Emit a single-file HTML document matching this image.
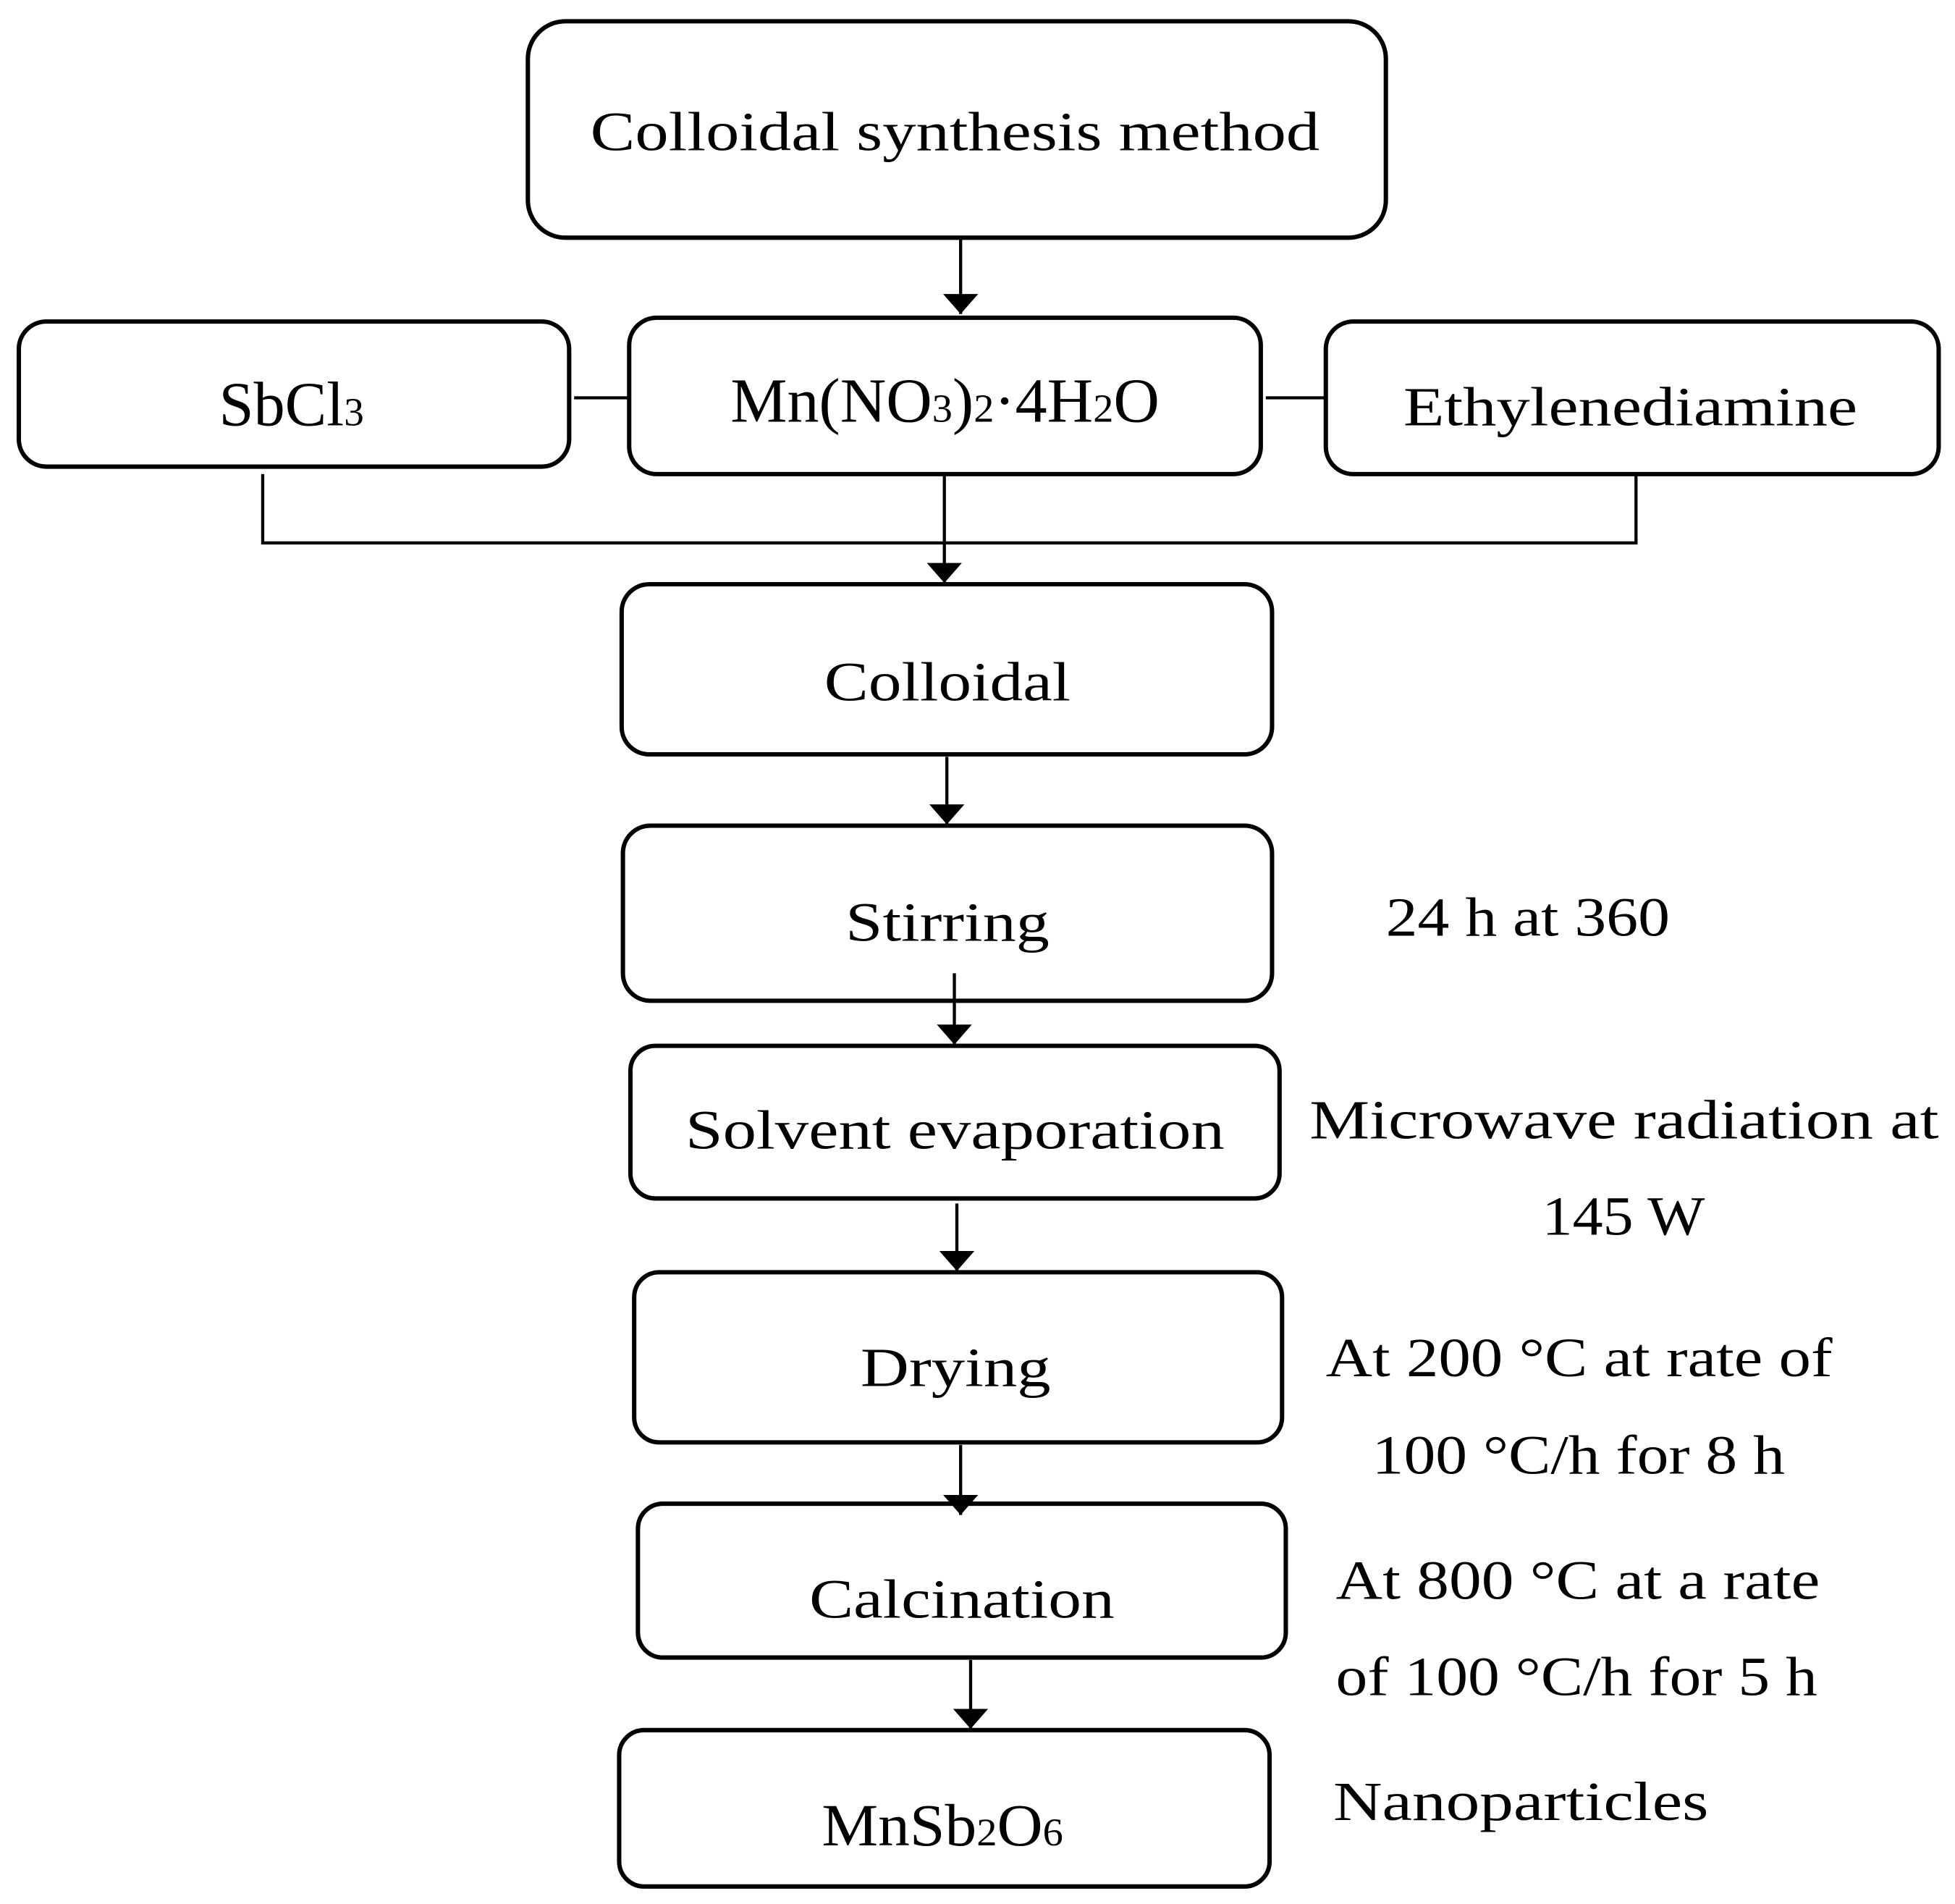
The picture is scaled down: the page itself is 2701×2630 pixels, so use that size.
<!DOCTYPE html>
<html><head><meta charset="utf-8"><style>
html,body{margin:0;padding:0;background:#fff;}
svg{display:block;}
text{font-family:"Liberation Serif",serif;fill:#000;}
</style></head><body>
<svg width="2701" height="2630" viewBox="0 0 1563 1522" xmlns="http://www.w3.org/2000/svg">
<defs>
<marker id="a" viewBox="0 0 10 10" refX="10" refY="5" markerWidth="16" markerHeight="28" markerUnits="userSpaceOnUse" orient="auto" preserveAspectRatio="none">
<path d="M0,0 L10,5 L0,10 z" fill="#000"/>
</marker>
</defs>
<g fill="#fff" stroke="#000" stroke-width="3.5">
<rect x="422" y="17" width="686" height="173" rx="30"/>
<rect x="15" y="257" width="440" height="116" rx="22"/>
<rect x="503" y="254" width="505" height="125" rx="22"/>
<rect x="1060" y="257" width="490" height="122" rx="22"/>
<rect x="497" y="467" width="520" height="136" rx="22"/>
<rect x="498" y="660" width="519" height="140" rx="22"/>
<rect x="504" y="836" width="519" height="122" rx="20"/>
<rect x="507" y="1017" width="518" height="136" rx="20"/>
<rect x="510" y="1202" width="518" height="123" rx="20"/>
<rect x="495" y="1383" width="520" height="125" rx="20"/>
</g>
<g stroke="#000" stroke-width="2.5" fill="none">
<line x1="768" y1="190" x2="768" y2="251" marker-end="url(#a)"/>
<line x1="459" y1="318" x2="503" y2="318"/>
<line x1="1012" y1="318" x2="1060" y2="318"/>
<polyline points="210,379 210,434 1308,434 1308,379"/>
<line x1="755" y1="379" x2="755" y2="466" marker-end="url(#a)"/>
<line x1="757" y1="605" x2="757" y2="659" marker-end="url(#a)"/>
<line x1="763" y1="778" x2="763" y2="835" marker-end="url(#a)"/>
<line x1="765" y1="962" x2="765" y2="1016" marker-end="url(#a)"/>
<line x1="768" y1="1155" x2="768" y2="1211" marker-end="url(#a)"/>
<line x1="776" y1="1327" x2="776" y2="1382" marker-end="url(#a)"/>
</g>
<g font-size="44">
<text x="472" y="120" textLength="583" lengthAdjust="spacingAndGlyphs">Colloidal synthesis method</text>
<text x="175" y="340" font-size="50" textLength="116" lengthAdjust="spacingAndGlyphs">SbCl<tspan font-size="32">3</tspan></text>
<text x="584" y="337" font-size="50" textLength="343" lengthAdjust="spacingAndGlyphs">Mn(NO<tspan font-size="32">3</tspan>)<tspan font-size="32">2</tspan>·4H<tspan font-size="32">2</tspan>O</text>
<text x="1122" y="340" textLength="363" lengthAdjust="spacingAndGlyphs">Ethylenediamine</text>
<text x="659" y="560" textLength="197" lengthAdjust="spacingAndGlyphs">Colloidal</text>
<text x="676" y="752" textLength="163" lengthAdjust="spacingAndGlyphs">Stirring</text>
<text x="1108" y="748" textLength="227" lengthAdjust="spacingAndGlyphs">24 h at 360</text>
<text x="548" y="918" textLength="431" lengthAdjust="spacingAndGlyphs">Solvent evaporation</text>
<text x="1047" y="910" textLength="503" lengthAdjust="spacingAndGlyphs">Microwave radiation at</text>
<text x="1233" y="987" textLength="130" lengthAdjust="spacingAndGlyphs">145 W</text>
<text x="688" y="1108" textLength="152" lengthAdjust="spacingAndGlyphs">Drying</text>
<text x="1060" y="1100" textLength="405" lengthAdjust="spacingAndGlyphs">At 200 °C at rate of</text>
<text x="1097" y="1178" textLength="330" lengthAdjust="spacingAndGlyphs">100 °C/h for 8 h</text>
<text x="647" y="1293" textLength="244" lengthAdjust="spacingAndGlyphs">Calcination</text>
<text x="1068" y="1278" textLength="387" lengthAdjust="spacingAndGlyphs">At 800 °C at a rate</text>
<text x="1068" y="1355" textLength="385" lengthAdjust="spacingAndGlyphs">of 100 °C/h for 5 h</text>
<text x="657" y="1475" font-size="48" textLength="193" lengthAdjust="spacingAndGlyphs">MnSb<tspan font-size="31">2</tspan>O<tspan font-size="31">6</tspan></text>
<text x="1066" y="1455" textLength="300" lengthAdjust="spacingAndGlyphs">Nanoparticles</text>
</g>
</svg>
</body></html>
